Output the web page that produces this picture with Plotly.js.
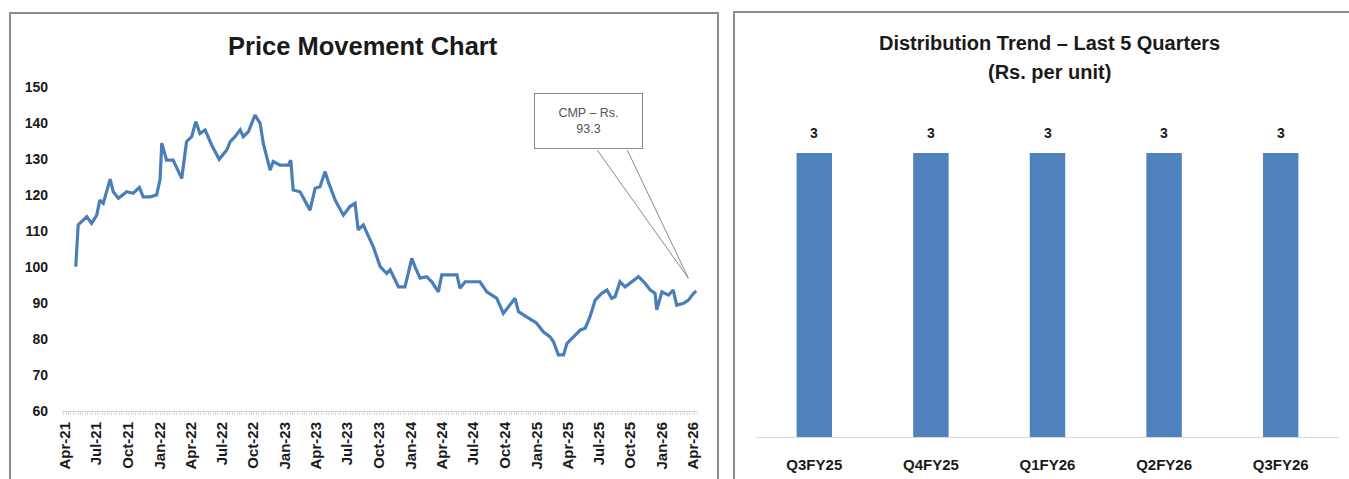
<!DOCTYPE html>
<html>
<head>
<meta charset="utf-8">
<script src="https://cdn.plot.ly/plotly-3.0.1.min.js"></script>
<style>html,body{margin:0;padding:0;background:#fff;}#chart{width:1349px;height:479px;}</style>
</head>
<body>
<div id="chart"></div>
<script>
// ---- Price movement (left chart) ----
const priceDates = [
  '2021-05-02','2021-05-09','2021-06-03','2021-06-17','2021-07-02','2021-07-11','2021-07-21','2021-08-10','2021-08-19','2021-09-03',
  '2021-09-27','2021-10-16','2021-11-03','2021-11-14','2021-12-04','2021-12-23','2022-01-02','2022-01-07','2022-01-21','2022-02-09',
  '2022-03-06','2022-03-20','2022-04-04','2022-04-16','2022-04-28','2022-05-13','2022-06-01','2022-06-23','2022-07-15','2022-07-25',
  '2022-08-08','2022-08-23','2022-09-01','2022-09-16','2022-10-05','2022-10-20','2022-10-29','2022-11-18','2022-11-27','2022-12-17',
  '2023-01-10','2023-01-17','2023-01-24','2023-02-13','2023-03-14','2023-03-29','2023-04-12','2023-04-27','2023-05-06','2023-05-26',
  '2023-06-19','2023-07-08','2023-07-23','2023-08-01','2023-08-16','2023-09-14','2023-10-04','2023-10-23','2023-11-02','2023-11-26',
  '2023-12-15','2024-01-04','2024-01-13','2024-01-28','2024-02-16','2024-03-02','2024-03-21','2024-03-31','2024-04-19','2024-05-14',
  '2024-05-23','2024-06-07','2024-07-01','2024-07-20','2024-08-09','2024-09-07','2024-09-26','2024-10-11','2024-10-30','2024-11-09',
  '2024-11-23','2024-12-18','2025-01-01','2025-01-20','2025-02-09','2025-02-19','2025-03-05','2025-03-20','2025-03-30','2025-04-18',
  '2025-05-08','2025-05-22','2025-06-05','2025-06-20','2025-07-09','2025-07-24','2025-08-07','2025-08-17','2025-08-31','2025-09-15',
  '2025-09-30','2025-10-24','2025-11-12','2025-11-27','2025-12-11','2025-12-16','2025-12-31','2026-01-19','2026-02-02','2026-02-12',
  '2026-03-04','2026-03-18','2026-04-02','2026-04-10'
];
const priceValues = [
  100.1,111.7,114.0,112.1,114.4,118.6,117.7,124.4,120.9,119.1,
  120.9,120.5,122.1,119.5,119.5,120.0,124.2,134.4,129.7,129.7,
  124.6,134.8,136.2,140.4,137.1,138.1,133.9,129.9,132.5,134.8,
  136.2,138.1,136.2,137.6,142.2,139.9,134.4,126.9,129.3,128.3,
  128.3,129.7,121.4,120.9,115.8,121.9,122.3,126.5,123.7,118.6,
  114.4,116.8,117.7,110.3,111.7,105.6,100.1,98.2,99.2,94.5,
  94.5,102.4,100.1,96.9,97.3,95.9,93.1,97.8,97.8,97.8,
  94.1,95.9,95.9,95.9,93.1,91.3,87.1,89.0,91.3,87.6,
  86.7,85.3,84.4,82.0,80.6,79.2,75.6,75.6,78.8,80.6,
  82.5,83.0,86.2,90.8,92.7,93.6,91.3,91.8,95.9,94.5,
  95.5,97.3,95.5,93.6,92.7,88.1,93.1,92.2,93.6,89.4,
  89.9,90.8,92.7,93.3
];
const priceTickVals = ['2021-04-01','2021-07-01','2021-10-01','2022-01-01','2022-04-01','2022-07-01','2022-10-01',
  '2023-01-01','2023-04-01','2023-07-01','2023-10-01','2024-01-01','2024-04-01','2024-07-01','2024-10-01',
  '2025-01-01','2025-04-01','2025-07-01','2025-10-01','2026-01-01','2026-04-01'];
const priceTickText = ['Apr-21','Jul-21','Oct-21','Jan-22','Apr-22','Jul-22','Oct-22',
  'Jan-23','Apr-23','Jul-23','Oct-23','Jan-24','Apr-24','Jul-24','Oct-24',
  'Jan-25','Apr-25','Jul-25','Oct-25','Jan-26','Apr-26'];
const priceTitle = 'Price Movement Chart';
const cmpLabel = 'CMP – Rs.<br>93.3';

// ---- Distribution (right chart) ----
const quarters = ['Q3FY25','Q4FY25','Q1FY26','Q2FY26','Q3FY26'];
const distribution = [3, 3, 3, 3, 3];
const distTitle1 = 'Distribution Trend – Last 5 Quarters';
const distTitle2 = '(Rs. per unit)';

const W = 1349, H = 479;
const px = v => v / W;
const py = v => (H - v) / H;
const FONT = 'Liberation Sans, Arial, sans-serif';
const BLUE = '#4a7ebb';

const lastDate = priceDates[priceDates.length - 1];
const lastVal = priceValues[priceValues.length - 1];

const traces = [
  {
    type: 'scatter', mode: 'lines', x: priceDates, y: priceValues,
    xaxis: 'x', yaxis: 'y',
    line: {color: BLUE, width: 3.2},
    hoverinfo: 'x+y'
  },
  {
    type: 'bar', x: quarters, y: distribution, xaxis: 'x2', yaxis: 'y2',
    marker: {color: '#4f81bd'}, hoverinfo: 'x+y'
  }
];

const annotations = [
  {xref: 'paper', yref: 'paper', x: px(363), y: py(46), text: priceTitle, showarrow: false,
   font: {family: FONT, size: 25.5, color: '#1a1a1a', weight: 'bold'}, xanchor: 'center', yanchor: 'middle'},
  {xref: 'paper', yref: 'paper', x: px(1049), y: py(43), text: distTitle1, showarrow: false,
   font: {family: FONT, size: 20, color: '#1a1a1a', weight: 'bold'}, xanchor: 'center', yanchor: 'middle'},
  {xref: 'paper', yref: 'paper', x: px(1049), y: py(72), text: distTitle2, showarrow: false,
   font: {family: FONT, size: 20, color: '#1a1a1a', weight: 'bold'}, xanchor: 'center', yanchor: 'middle'},
  {xref: 'x', yref: 'y', x: lastDate, y: lastVal, xshift: -108, yshift: 170,
   text: cmpLabel, showarrow: false, width: 105, height: 52,
   bordercolor: '#8a8a8a', borderwidth: 1, bgcolor: '#ffffff',
   font: {family: FONT, size: 12.5, color: '#555'}, align: 'center'}
];
quarters.forEach((q, i) => {
  annotations.push({xref: 'x2', yref: 'y2', x: q, y: distribution[i], text: String(distribution[i]),
    showarrow: false, yanchor: 'bottom', yshift: 10,
    font: {family: FONT, size: 14, color: '#1a1a1a', weight: 'bold'}});
});

const shapes = [
  // panel borders
  {type: 'rect', xref: 'paper', yref: 'paper', x0: px(10), x1: px(718), y0: py(13), y1: py(485),
   line: {color: '#8c8c8c', width: 2}, fillcolor: 'rgba(0,0,0,0)', layer: 'below'},
  {type: 'rect', xref: 'paper', yref: 'paper', x0: px(734), x1: px(1360), y0: py(12), y1: py(485),
   line: {color: '#8c8c8c', width: 2}, fillcolor: 'rgba(0,0,0,0)', layer: 'below'},
  // callout wedge
  {type: 'path', xref: 'x', yref: 'y', xsizemode: 'pixel', ysizemode: 'pixel',
   xanchor: lastDate, yanchor: lastVal,
   path: 'M -99,141 L -8,13 L -69,141',
   line: {color: '#8a8a8a', width: 1}, fillcolor: 'rgba(0,0,0,0)'}
];

const layout = {
  width: W, height: H,
  margin: {l: 0, r: 0, t: 0, b: 0},
  paper_bgcolor: '#ffffff', plot_bgcolor: 'rgba(0,0,0,0)',
  showlegend: false,
  font: {family: FONT},
  xaxis: {
    type: 'date', domain: [px(62), px(697)], range: ['2021-03-23', '2026-04-12'],
    tickmode: 'array', tickvals: priceTickVals, ticktext: priceTickText, tickangle: -90,
    tickfont: {family: FONT, size: 15, color: '#1a1a1a', weight: 'bold'},
    showline: true, linecolor: '#d6d6d6', linewidth: 1, ticks: '',
    minor: {dtick: 7 * 86400000, ticks: 'outside', ticklen: 3, tickcolor: '#dcdcdc', showgrid: false},
    showgrid: false, zeroline: false, anchor: 'y', fixedrange: true, ticklabelstandoff: 4
  },
  yaxis: {
    domain: [py(411), py(87)], range: [60, 150], tick0: 60, dtick: 10,
    tickfont: {family: FONT, size: 14, color: '#1a1a1a', weight: 'bold'},
    showgrid: false, zeroline: false, showline: false, ticks: '', anchor: 'x',
    fixedrange: true, ticklabelstandoff: 13
  },
  xaxis2: {
    domain: [px(756), px(1339)], anchor: 'y2', type: 'category',
    tickfont: {family: FONT, size: 15, color: '#1a1a1a', weight: 'bold'},
    showline: true, linecolor: '#d9d9d9', linewidth: 1, ticks: '', showgrid: false, zeroline: false,
    fixedrange: true, ticklabelstandoff: 14
  },
  yaxis2: {
    domain: [py(437), py(437) + (py(153) - py(437)) * 3.5 / 3], range: [0, 3.5], anchor: 'x2',
    visible: false, fixedrange: true
  },
  bargap: 0.696,
  annotations: annotations,
  shapes: shapes
};

Plotly.newPlot('chart', traces, layout, {displayModeBar: false, staticPlot: true});
</script>
</body>
</html>
